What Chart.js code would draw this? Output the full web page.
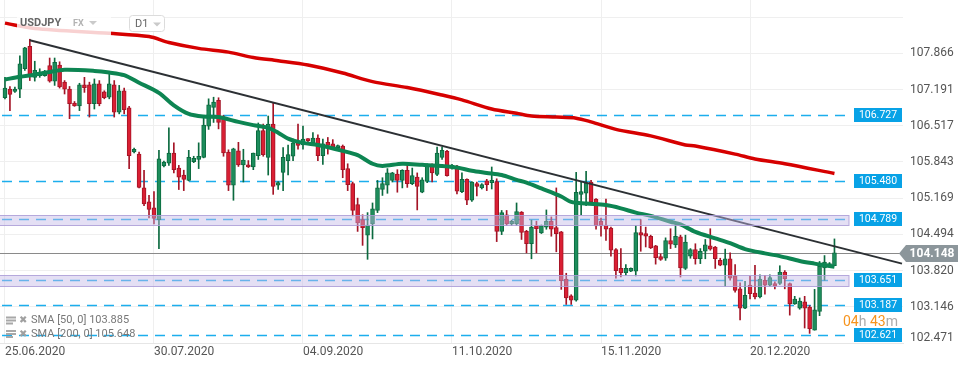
<!DOCTYPE html>
<html>
<head>
<title>USDJPY D1</title>
<script src="https://cdn.jsdelivr.net/npm/chart.js"></script>
<style>
  body { margin: 0; background: #fff; }
  canvas { display: block; }
</style>
</head>
<body>
<canvas id="chart" width="970" height="367"></canvas>

<script>
// daily candles, index 0 = 25.06.2020
const open = [107.04,107.20,107.16,107.20,107.58,108.00,107.42,107.45,107.45,107.64,
  107.35,107.65,107.33,107.20,106.94,106.89,107.28,107.28,106.93,107.30,
  107.15,107.05,107.28,106.77,107.17,106.85,106.03,105.99,105.36,105.10,
  104.99,104.77,105.77,105.82,106.01,105.73,105.60,105.50,105.85,105.89,
  105.93,106.51,106.86,106.99,106.66,106.03,105.41,106.05,105.79,105.79,
  105.75,105.96,106.43,105.93,106.55,105.41,105.65,105.87,105.95,106.20,
  106.16,106.27,106.20,106.29,105.96,106.21,106.18,106.11,106.14,105.72,
  105.44,105.05,104.77,104.48,104.69,104.94,105.33,105.41,105.50,105.62,
  105.50,105.69,105.44,105.56,105.28,105.48,105.76,105.61,105.93,106.04,
  105.73,105.75,105.29,105.52,105.13,105.44,105.36,105.49,105.46,105.48,
  104.55,104.86,104.69,104.69,104.91,104.55,104.32,104.66,104.52,104.63,
  104.74,104.62,104.54,103.66,103.35,103.27,105.24,105.26,105.47,105.15,
  104.74,104.67,104.61,104.21,103.86,103.78,103.81,103.81,104.53,104.51,
  104.46,104.28,104.08,104.05,104.38,104.30,104.45,103.86,104.09,104.21,
  104.04,104.18,104.28,104.26,104.01,103.92,104.04,103.72,103.48,103.12,
  103.55,103.40,103.33,103.64,103.55,103.58,103.58,103.79,103.58,103.20,
  103.12,103.24,103.14,102.71,103.06,103.87,103.91,103.91];
const high = [107.42,107.25,107.24,107.82,107.98,108.13,107.72,107.58,107.55,107.78,
  107.78,107.71,107.36,107.25,106.97,107.31,107.42,107.33,107.39,107.36,
  107.17,107.51,107.36,107.27,107.22,106.88,106.10,106.03,105.69,105.22,
  105.29,106.06,105.86,106.48,106.20,105.78,105.69,106.06,105.95,106.20,
  106.70,107.02,107.05,107.04,106.71,106.07,106.10,106.21,106.08,105.87,
  106.01,106.57,106.55,106.70,106.94,105.48,106.11,106.16,106.27,106.55,
  106.51,106.28,106.39,106.35,106.27,106.30,106.26,106.16,106.16,105.81,
  105.47,105.17,104.86,104.90,105.08,105.50,105.55,105.72,105.65,105.70,
  105.70,105.81,105.73,105.64,105.55,105.81,105.81,106.12,106.12,106.06,
  105.80,105.78,105.64,105.53,105.48,105.47,105.44,105.52,105.75,105.53,
  104.94,104.94,104.76,105.08,104.92,104.57,104.76,104.74,104.67,104.95,
  104.82,105.36,104.55,103.77,103.37,105.65,105.47,105.67,105.50,105.16,
  104.80,105.15,104.63,104.23,104.23,103.93,103.87,104.66,104.77,104.63,
  104.48,104.29,104.13,104.43,104.60,104.67,104.48,104.48,104.23,104.32,
  104.23,104.40,104.60,104.27,104.05,104.22,104.15,103.93,103.59,103.62,
  103.72,103.92,103.74,103.73,103.74,103.61,103.91,103.82,103.59,103.34,
  103.31,103.34,103.17,103.47,103.99,104.10,103.97,104.41];
const low = [107.02,106.80,107.14,107.04,107.55,107.36,107.35,107.42,107.44,107.33,
  107.27,107.22,107.11,106.65,106.88,106.80,107.14,106.68,106.83,106.89,
  107.02,107.02,106.68,106.74,106.74,105.72,106.01,105.36,105.03,104.80,
  104.69,104.23,105.75,105.78,105.64,105.33,105.31,105.49,105.83,105.72,
  105.92,106.45,106.58,106.46,105.95,105.31,105.13,105.76,105.47,105.74,
  105.70,105.89,105.95,105.60,105.24,105.33,105.31,105.60,105.87,106.08,
  106.08,106.22,106.15,105.87,105.80,105.99,106.09,106.09,105.55,105.31,
  104.84,104.55,104.29,104.03,104.41,104.90,105.22,105.26,105.47,105.28,
  105.36,105.37,105.42,104.95,105.27,105.46,105.47,105.59,105.89,105.58,
  105.71,105.25,105.27,105.05,105.11,105.21,105.34,105.31,105.34,104.36,
  104.49,104.66,104.66,104.66,104.40,104.15,104.04,104.15,104.51,104.59,
  104.46,104.17,103.47,103.19,103.19,103.25,104.86,105.03,105.08,104.59,
  104.46,104.38,104.09,103.68,103.70,103.73,103.80,103.72,104.18,104.26,
  104.23,103.94,104.01,104.01,104.23,104.25,103.70,103.84,104.05,103.94,
  103.95,104.04,104.20,103.86,103.91,103.53,103.64,103.42,102.90,103.11,
  103.29,103.29,103.31,103.38,103.53,103.48,103.56,103.48,102.99,103.19,
  103.10,102.75,102.65,102.71,102.98,103.64,103.89,103.91];
const close = [107.22,107.10,107.20,107.67,107.97,107.45,107.55,107.51,107.53,107.35,
  107.70,107.24,107.20,106.93,106.89,107.28,107.23,106.93,107.30,106.93,
  107.04,107.30,106.77,107.17,106.82,105.96,106.08,105.37,105.06,104.96,
  104.79,105.90,105.84,106.01,105.70,105.56,105.52,105.93,105.91,105.95,
  106.53,106.91,106.96,106.58,106.01,105.41,106.09,105.79,105.88,105.75,
  106.01,106.43,105.98,106.55,105.39,105.46,105.93,105.98,106.20,106.15,
  106.27,106.24,106.29,105.96,106.18,106.15,106.12,106.14,105.70,105.42,
  104.94,104.71,104.62,104.67,104.97,105.36,105.44,105.64,105.64,105.50,
  105.69,105.44,105.59,105.39,105.51,105.76,105.64,106.01,106.06,105.59,
  105.78,105.30,105.52,105.13,105.47,105.39,105.42,105.42,105.50,104.55,
  104.90,104.69,104.74,104.92,104.53,104.32,104.63,104.60,104.66,104.74,
  104.59,104.51,103.63,103.31,103.27,105.28,105.29,105.45,105.10,104.65,
  104.65,104.59,104.20,103.82,103.78,103.86,103.86,104.53,104.48,104.46,
  104.24,104.06,104.03,104.38,104.31,104.46,103.87,104.35,104.21,104.04,
  104.18,104.30,104.22,104.04,103.92,104.04,103.68,103.45,103.12,103.36,
  103.39,103.33,103.66,103.55,103.69,103.53,103.79,103.67,103.20,103.29,
  103.25,103.12,102.74,103.09,103.90,103.98,103.95,104.15];

// moving averages
const sma50X = [0,3,6,9,12,18,21,24,27,31,34,37,40,43,47,50,53,55,57,60,63,68,71,74,76,80,84,88,91,94,97,100,103,105,108,112,114,117,121,124,127,130,134,136,139,143,146,149,153,156,160,163,165,167];
const sma50Y = [107.38,107.43,107.47,107.52,107.56,107.54,107.51,107.46,107.32,107.13,106.90,106.74,106.69,106.68,106.59,106.53,106.48,106.39,106.28,106.20,106.16,106.05,105.97,105.81,105.77,105.81,105.79,105.77,105.74,105.68,105.64,105.60,105.51,105.46,105.35,105.20,105.10,105.07,105.04,104.98,104.90,104.84,104.73,104.68,104.54,104.42,104.33,104.22,104.14,104.09,104.00,103.95,103.92,103.89];
const sma200X = [0,6,21,29,33,39,45,50,55,61,68,74,81,88,92,98,103,106,111,115,118,123,130,137,139,147,151,157,167];
const sma200Y = [108.43,108.33,108.24,108.18,108.07,107.96,107.89,107.79,107.73,107.65,107.50,107.34,107.23,107.09,107.00,106.83,106.75,106.70,106.68,106.66,106.59,106.45,106.33,106.16,106.14,105.99,105.90,105.81,105.63];

// trendline
const trendX = [5, 180.6];
const trendY = [108.11, 103.95];

// levels and zones
const levels = [106.727, 105.480, 104.789, 103.651, 103.187, 102.621];
const zoneLow = [104.66, 103.54];
const zoneHigh = [104.86, 103.74];
const lastPrice = 104.148;

// axes
const yTicks = [102.471, 103.146, 103.820, 104.494, 105.169, 105.843, 106.517, 107.191, 107.866];
const yGridExtra = [108.540];
const xTickIdx = [0, 30, 60, 90, 120, 150];
const xTickLabels = ['25.06.2020', '30.07.2020', '04.09.2020', '11.10.2020', '15.11.2020', '20.12.2020'];

const smaLegend = ['SMA [50, 0] 103.885', 'SMA [200, 0] 105.648'];

const GREEN = '#1d8d5c', GREEN_D = '#0b6a3f';
const RED = '#da1f33', RED_D = '#a41426';
const FONT = 'Roboto, "Noto Sans", sans-serif';

const up = open.map((o, i) => close[i] >= o);

const overlay = {
  id: 'overlay',
  beforeDatasetsDraw(chart) {
    const {ctx, chartArea: a, scales: {x, y}} = chart;
    ctx.save();
    // dashed levels
    ctx.strokeStyle = 'rgba(3,165,235,0.9)';
    ctx.lineWidth = 1.5;
    ctx.setLineDash([10, 7]);
    levels.forEach(v => {
      const py = Math.round(y.getPixelForValue(v)) + 0.5;
      ctx.beginPath(); ctx.moveTo(a.left + 2, py); ctx.lineTo(852, py); ctx.stroke();
    });
    ctx.setLineDash([]);
    // last price line
    const pp = Math.round(y.getPixelForValue(lastPrice)) + 0.5;
    ctx.strokeStyle = '#8a8a8a'; ctx.lineWidth = 1;
    ctx.beginPath(); ctx.moveTo(a.left, pp); ctx.lineTo(900, pp); ctx.stroke();
    ctx.restore();
  },
  afterDatasetsDraw(chart) {
    const {ctx, chartArea: a, scales: {x, y}} = chart;
    ctx.save();
    // zones
    zoneLow.forEach((lo, k) => {
      const y1 = Math.round(y.getPixelForValue(zoneHigh[k])) + 0.5;
      const y2 = Math.round(y.getPixelForValue(lo)) + 0.5;
      ctx.fillStyle = 'rgba(196,184,230,0.45)';
      ctx.fillRect(a.left, y1, 849, y2 - y1);
      ctx.strokeStyle = 'rgba(170,155,215,0.85)';
      ctx.lineWidth = 1;
      ctx.strokeRect(a.left - 1, y1, 850, y2 - y1);
    });

    // level labels
    ctx.font = '10.5px ' + FONT;
    ctx.textAlign = 'center';
    ctx.textBaseline = 'middle';
    levels.forEach(v => {
      const py = y.getPixelForValue(v);
      ctx.fillStyle = '#08a2e6';
      ctx.fillRect(854, Math.round(py) - 7, 48, 14);
      ctx.fillStyle = '#fff';
      ctx.fillText(v.toFixed(3), 878, Math.round(py) + 0.5);
    });

    // last price tag
    const pp = Math.round(y.getPixelForValue(lastPrice)) + 0.5;
    ctx.fillStyle = '#8c969b';
    ctx.beginPath();
    ctx.moveTo(899, pp); ctx.lineTo(906, pp - 8.5); ctx.lineTo(958, pp - 8.5);
    ctx.lineTo(958, pp + 8.5); ctx.lineTo(906, pp + 8.5); ctx.closePath(); ctx.fill();
    ctx.fillStyle = '#fff';
    ctx.font = 'bold 12px ' + FONT;
    ctx.fillText(lastPrice.toFixed(3), 932, pp + 0.5);

    // y tick labels
    ctx.font = '12px ' + FONT;
    ctx.fillStyle = '#555';
    ctx.textAlign = 'left';
    yTicks.forEach(v => {
      const py = Math.min(y.getPixelForValue(v), 338);
      ctx.fillText(v.toFixed(3), 910, py);
    });

    // x tick labels
    xTickIdx.forEach((idx, k) => {
      ctx.fillText(xTickLabels[k], x.getPixelForValue(idx), 352);
    });

    // header
    ctx.fillStyle = 'rgba(255,255,255,0.82)';
    ctx.fillRect(17, 10, 94, 26);
    ctx.fillStyle = '#666';
    ctx.font = 'bold 11px ' + FONT;
    ctx.fillText('USDJPY', 20, 23);
    ctx.fillStyle = '#b3b3b3';
    ctx.font = 'bold 9px ' + FONT;
    ctx.fillText('FX', 73, 24);
    ctx.fillStyle = '#cacaca';
    ctx.beginPath(); ctx.moveTo(89, 21); ctx.lineTo(97, 21); ctx.lineTo(93, 25); ctx.fill();
    ctx.fillStyle = '#fff';
    ctx.strokeStyle = '#dcdcdc';
    ctx.beginPath(); ctx.roundRect(129.5, 15.5, 35, 16, 3); ctx.fill(); ctx.stroke();
    ctx.fillStyle = '#666';
    ctx.font = '11px ' + FONT;
    ctx.fillText('D1', 135, 24);
    ctx.fillStyle = '#cacaca';
    ctx.beginPath(); ctx.moveTo(153, 22.5); ctx.lineTo(161, 22.5); ctx.lineTo(157, 26.5); ctx.fill();

    // indicator legend
    smaLegend.forEach((t, k) => {
      const cy = 320.5 + k * 13.5;
      ctx.fillStyle = '#a8a8a8';
      ctx.fillRect(6, cy - 4, 10, 2);
      ctx.fillRect(6, cy - 1, 10, 2);
      ctx.fillRect(6, cy + 2, 7, 2);
      ctx.fillStyle = '#a0a0a0';
      ctx.font = 'bold 10px "DejaVu Sans", sans-serif';
      ctx.fillText('\u2716', 19, cy);
      ctx.fillStyle = '#777';
      ctx.font = '11px ' + FONT;
      ctx.fillText(t, 31, cy);
    });

    // candle countdown
    ctx.font = '14px ' + FONT;
    let cx = 843;
    [['04', '#f7941d'], ['h ', '#aaa'], ['43', '#f7941d'], ['m', '#aaa']].forEach(([t, c]) => {
      ctx.fillStyle = c;
      ctx.fillText(t, cx, 322);
      cx += ctx.measureText(t).width;
    });
    ctx.restore();
  }
};

new Chart(document.getElementById('chart').getContext('2d'), {
  type: 'bar',
  data: {
    datasets: [
      {
        label: 'wicks',
        data: high.map((h, i) => ({x: i, y: [low[i], h]})),
        backgroundColor: up.map(u => u ? GREEN_D : RED_D),
        barThickness: 1,
        grouped: false,
        order: 5
      },
      {
        label: 'bodies',
        data: open.map((o, i) => ({x: i, y: [o, close[i]]})),
        backgroundColor: up.map(u => u ? GREEN : RED),
        borderColor: up.map(u => u ? GREEN_D : RED_D),
        borderWidth: 1,
        borderSkipped: false,
        barThickness: 4,
        minBarLength: 2,
        grouped: false,
        order: 4
      },
      {
        type: 'line',
        label: 'SMA 200',
        data: sma200X.map((v, k) => ({x: v, y: sma200Y[k]})),
        borderColor: '#d60000',
        borderWidth: 3.5,
        pointRadius: 0,
        tension: 0.3,
        order: 3
      },
      {
        type: 'line',
        label: 'SMA 50',
        data: sma50X.map((v, k) => ({x: v, y: sma50Y[k]})),
        borderColor: '#0d8552',
        borderWidth: 4,
        pointRadius: 0,
        tension: 0.3,
        order: 2
      },
      {
        type: 'line',
        label: 'trend',
        data: trendX.map((v, k) => ({x: v, y: trendY[k]})),
        borderColor: '#2c3034',
        borderWidth: 2,
        pointRadius: 0,
        order: 1
      }
    ]
  },
  options: {
    responsive: false,
    animation: false,
    layout: {padding: 0},
    plugins: {legend: {display: false}, tooltip: {enabled: false}},
    scales: {
      x: {
        type: 'linear',
        min: -1,
        max: 180.8,
        offset: false,
        grid: {color: '#efefef', offset: false, drawTicks: false},
        border: {color: '#e6e6e6'},
        ticks: {display: false},
        afterBuildTicks: s => { s.ticks = xTickIdx.map(v => ({value: v})); },
        afterFit: s => { s.height = 24; }
      },
      y: {
        position: 'right',
        min: 102.471,
        max: 108.861,
        grid: {color: '#efefef', drawTicks: false},
        border: {display: false},
        ticks: {display: false},
        afterBuildTicks: s => { s.ticks = yTicks.concat(yGridExtra).map(v => ({value: v})); },
        afterFit: s => { s.width = 67; }
      }
    }
  },
  plugins: [overlay]
});
</script>
</body>
</html>
